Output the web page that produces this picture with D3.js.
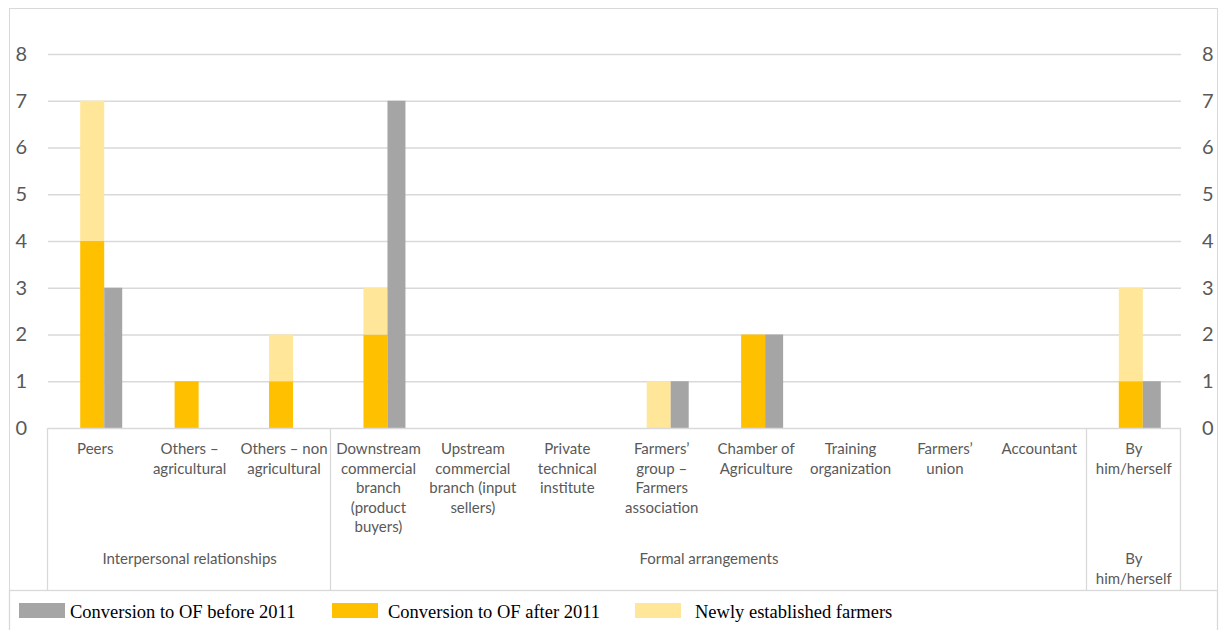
<!DOCTYPE html>
<html>
<head>
<meta charset="utf-8">
<script src="https://cdn.jsdelivr.net/npm/d3@7"></script>
<style>
  html, body { margin: 0; padding: 0; background: #fff; }
  svg { display: block; }
</style>
</head>
<body>
<svg id="chart" width="1219" height="630"></svg>
<script>
// Categories (each label split into display lines)
const categories = [
  "Peers",
  "Others – agricultural",
  "Others – non agricultural",
  "Downstream commercial branch (product buyers)",
  "Upstream commercial branch (input sellers)",
  "Private technical institute",
  "Farmers’ group – Farmers association",
  "Chamber of Agriculture",
  "Training organization",
  "Farmers’ union",
  "Accountant",
  "By him/herself"
];
const categoryLines = [
  ["Peers"],
  ["Others –", "agricultural"],
  ["Others – non", "agricultural"],
  ["Downstream", "commercial", "branch", "(product", "buyers)"],
  ["Upstream", "commercial", "branch (input", "sellers)"],
  ["Private", "technical", "institute"],
  ["Farmers’", "group –", "Farmers", "association"],
  ["Chamber of", "Agriculture"],
  ["Training", "organization"],
  ["Farmers’", "union"],
  ["Accountant"],
  ["By", "him/herself"]
];

// Category groups: first and last category index, label lines
const groups = [
  { from: 0, to: 2, lines: ["Interpersonal relationships"] },
  { from: 3, to: 10, lines: ["Formal arrangements"] },
  { from: 11, to: 11, lines: ["By", "him/herself"] }
];

// Series values
const beforeValues = [3, 0, 0, 7, 0, 0, 1, 2, 0, 0, 0, 1];
const afterValues  = [4, 1, 1, 2, 0, 0, 0, 2, 0, 0, 0, 1];
const newlyValues  = [3, 0, 1, 1, 0, 0, 1, 0, 0, 0, 0, 2];

const yTicks = [0, 1, 2, 3, 4, 5, 6, 7, 8];

const seriesNames = {
  before: "Conversion to OF before 2011",
  after: "Conversion to OF after 2011",
  newly: "Newly established farmers"
};
const colors = { before: "#A5A5A5", after: "#FFC000", newly: "#FFE699" };

const svg = d3.select("#chart");
const plotLeft = 48, plotRight = 1181, plotTop = 54, plotBottom = 428;
const catBottom = 590;
const labelFont = "Lato, 'Open Sans', sans-serif";
const textColor = "#595959";
const lineColor = "#D9D9D9";

const x = d3.scaleBand().domain(categories).range([plotLeft, plotRight]).padding(0);
const y = d3.scaleLinear().domain([0, 8]).range([plotBottom, plotTop]);

// Outer chart frame
svg.append("rect")
  .attr("x", 9.5).attr("y", 8.5)
  .attr("width", 1208).attr("height", catBottom - 8)
  .attr("fill", "none").attr("stroke", lineColor).attr("stroke-width", 1);

// Horizontal gridlines
svg.append("g")
  .attr("transform", `translate(${plotLeft},0)`)
  .call(d3.axisRight(y).tickValues(yTicks.slice(1)).tickSize(plotRight - plotLeft).tickFormat(""))
  .call(g => g.select(".domain").remove())
  .call(g => g.selectAll("line").attr("stroke", lineColor).attr("stroke-width", 1.3));

// Left and right value axes (labels only)
const leftAxis = svg.append("g")
  .attr("transform", "translate(27,0)")
  .call(d3.axisLeft(y).tickValues(yTicks).tickSize(0).tickPadding(0).tickFormat(d3.format("d")));
const rightAxis = svg.append("g")
  .attr("transform", "translate(1202,0)")
  .call(d3.axisRight(y).tickValues(yTicks).tickSize(0).tickPadding(0).tickFormat(d3.format("d")));
[leftAxis, rightAxis].forEach(g => {
  g.select(".domain").remove();
  g.selectAll("text")
    .attr("font-family", labelFont)
    .attr("font-size", 20)
    .attr("fill", textColor);
});

// Bars: stacked (after + newly) on the left, "before" on the right
const stackW = 24, greyW = 18;
const stackOffset = -15, greyOffset = 9;
const center = c => x(c) + x.bandwidth() / 2;

const barData = categories.map((c, i) => ({
  c, after: afterValues[i], newly: newlyValues[i], before: beforeValues[i]
}));

const bars = svg.append("g");
bars.selectAll(".after").data(barData.filter(d => d.after > 0)).join("rect")
  .attr("x", d => center(d.c) + stackOffset)
  .attr("width", stackW)
  .attr("y", d => y(d.after))
  .attr("height", d => y(0) - y(d.after))
  .attr("fill", colors.after);
bars.selectAll(".newly").data(barData.filter(d => d.newly > 0)).join("rect")
  .attr("x", d => center(d.c) + stackOffset)
  .attr("width", stackW)
  .attr("y", d => y(d.after + d.newly))
  .attr("height", d => y(d.after) - y(d.after + d.newly))
  .attr("fill", colors.newly);
bars.selectAll(".before").data(barData.filter(d => d.before > 0)).join("rect")
  .attr("x", d => center(d.c) + greyOffset)
  .attr("width", greyW)
  .attr("y", d => y(d.before))
  .attr("height", d => y(0) - y(d.before))
  .attr("fill", colors.before);

// Category axis table lines
const axisG = svg.append("g").attr("stroke", lineColor).attr("stroke-width", 1.3);
axisG.append("line")
  .attr("x1", plotLeft).attr("x2", plotRight)
  .attr("y1", plotBottom + 0.5).attr("y2", plotBottom + 0.5);
const boundaries = [plotLeft].concat(groups.map(g => x(categories[g.to]) + x.bandwidth()));
axisG.selectAll(".vb").data(boundaries).join("line")
  .attr("x1", d => Math.round(d) - 0.5).attr("x2", d => Math.round(d) - 0.5)
  .attr("y1", plotBottom).attr("y2", catBottom);

// Category labels
const lineH = 19.6;
const catG = svg.append("g")
  .attr("font-family", labelFont).attr("font-size", 15).attr("fill", textColor)
  .attr("text-anchor", "middle");
categories.forEach((c, i) => {
  const t = catG.append("text").attr("x", center(c)).attr("y", 454);
  categoryLines[i].forEach((ln, k) => {
    t.append("tspan").attr("x", center(c)).attr("dy", k === 0 ? 0 : lineH).text(ln);
  });
});

// Group labels
groups.forEach(g => {
  const cx = (x(categories[g.from]) + x(categories[g.to]) + x.bandwidth()) / 2;
  const t = catG.append("text").attr("x", cx).attr("y", 564);
  g.lines.forEach((ln, k) => {
    t.append("tspan").attr("x", cx).attr("dy", k === 0 ? 0 : lineH).text(ln);
  });
});

// Legend box
svg.append("rect")
  .attr("x", 9.5).attr("y", catBottom + 0.5)
  .attr("width", 1208).attr("height", 50)
  .attr("fill", "#fff").attr("stroke", lineColor).attr("stroke-width", 1.3);

const legendItems = [
  { key: "before", sx: 19, tx: 70 },
  { key: "after", sx: 332, tx: 388 },
  { key: "newly", sx: 635, tx: 695 }
];
const legend = svg.append("g");
legend.selectAll("rect").data(legendItems).join("rect")
  .attr("x", d => d.sx).attr("y", 603)
  .attr("width", 46).attr("height", 15)
  .attr("fill", d => colors[d.key]);
legend.selectAll("text").data(legendItems).join("text")
  .attr("x", d => d.tx).attr("y", 618)
  .attr("font-family", "'Liberation Serif', 'Times New Roman', serif")
  .attr("font-size", 18.5)
  .attr("fill", "#000")
  .text(d => seriesNames[d.key]);
</script>
</body>
</html>
